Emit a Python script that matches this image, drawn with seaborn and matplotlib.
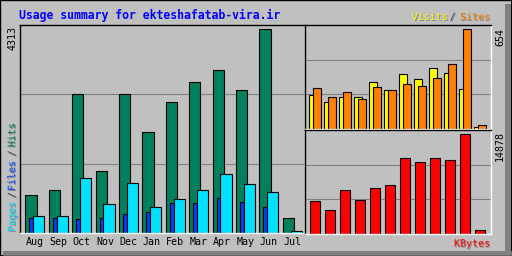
import numpy as np
import pandas as pd
import seaborn as sns
import matplotlib.pyplot as plt
from matplotlib.patches import Rectangle
import matplotlib.patheffects as pe

## data
months = ["Aug", "Sep", "Oct", "Nov", "Dec", "Jan", "Feb", "Mar", "Apr", "May", "Jun", "Jul"]
hits = [807, 914, 2932, 1317, 2932, 2146, 2762, 3187, 3442, 3017, 4313, 319]
files = [361, 361, 1169, 616, 1062, 552, 722, 914, 1254, 1041, 871, 42]
pages = [319, 319, 297, 319, 404, 446, 637, 637, 743, 658, 552, 10]
visits = [222, 178, 209, 209, 309, 255, 362, 329, 402, 369, 262, 16]
sites = [269, 209, 242, 196, 275, 255, 295, 282, 335, 428, 654, 23]
kbytes = [4858, 3644, 6528, 5010, 6832, 7287, 11386, 10779, 11386, 11083, 14878, 607]

W, H = 512, 256
BG = "#C0C0C0"
C_HITS, C_FILES, C_PAGES = "#00805C", "#0040FF", "#00E0FF"
C_VISITS, C_SITES, C_KB = "#FFFF00", "#FF8000", "#FF0000"
MONO = "DejaVu Sans Mono"

fig = plt.figure(figsize=(W / 100, H / 100), dpi=100, facecolor=BG)


def fx(x):
    return x / W


def fy(y):
    return 1 - y / H


def panel(x0, y0, x1, y1):
    ax = fig.add_axes([fx(x0), fy(y1), fx(x1 - x0), (y1 - y0) / H])
    ax.set_facecolor(BG)
    for side in ["left", "top"]:
        ax.spines[side].set_color("black")
    for side in ["right", "bottom"]:
        ax.spines[side].set_color("white")
    for s in ax.spines.values():
        s.set_linewidth(1.0)
    ax.set_axisbelow(True)
    return ax


def bars(ax, offset, values, width, color):
    sns.barplot(x=np.arange(12) + offset, y=values, native_scale=True, width=width,
                color=color, saturation=1, edgecolor="black", linewidth=0.8,
                errorbar=None, ax=ax)


def finish(ax, top, xlim):
    ax.set_ylim(0, top)
    ax.set_xlim(*xlim)
    ax.set_yticks([top / 3, 2 * top / 3])
    ax.yaxis.grid(True, color="#808080", linewidth=0.8)
    ax.tick_params(axis="y", length=0, labelleft=False)
    ax.set_xlabel("")
    ax.set_ylabel("")


# main panel: hits / files / pages
ax1 = panel(20, 25, 305, 233)
bars(ax1, -0.167, hits, 0.48, C_HITS)
bars(ax1, -0.154, pages, 0.17, C_FILES)
bars(ax1, 0.167, files, 0.48, C_PAGES)
finish(ax1, 4400, (-0.64, 11.54))
ax1.set_xticks(range(12))
ax1.set_xticklabels(months, family=MONO, fontsize=7.2)
ax1.tick_params(axis="x", length=0, pad=3)

# visits / sites panel
ax2 = panel(305, 25, 491, 129)
bars(ax2, -0.133, visits, 0.49, C_VISITS)
bars(ax2, 0.133, sites, 0.49, C_SITES)
finish(ax2, 683, (-0.667, 11.73))
ax2.tick_params(axis="x", length=0, labelbottom=False)

# kbytes panel
ax3 = panel(305, 130, 491, 234)
bars(ax3, 0, kbytes, 0.62, C_KB)
finish(ax3, 15530, (-0.667, 11.73))
ax3.tick_params(axis="x", length=0, labelbottom=False)

# outer bevel
fig.add_artist(Rectangle((0, 0), 1, 1, transform=fig.transFigure, fill=False,
                         edgecolor="black", linewidth=1.4))
fig.add_artist(Rectangle((fx(505), 0), fx(6), 1 - 4 / H, transform=fig.transFigure,
                         facecolor="#808080", edgecolor="none"))
fig.add_artist(Rectangle((fx(3), 0), 1, 5 / H, transform=fig.transFigure,
                         facecolor="#808080", edgecolor="none"))
fig.add_artist(Rectangle((0, 0), 1, 1, transform=fig.transFigure, fill=False,
                         edgecolor="black", linewidth=1.0))

shadow = [pe.withSimplePatchShadow(offset=(0.7, -0.7), shadow_rgbFace="#808080", alpha=1)]


def label(x, y, s, color, rot=0, ha="center", size=7.2, weight="normal", fx_=None):
    fig.text(fx(x), fy(y), s, color=color, rotation=rot, ha=ha, va="center",
             family=MONO, fontsize=size, weight=weight, path_effects=fx_)


label(19.3, 15, "Usage summary for ekteshafatab-vira.ir", "#0000FF", ha="left",
      size=8.3, weight="bold")
label(411.7, 17, "Visits", C_VISITS, ha="left", fx_=shadow)
label(452.7, 17, "/", "#404040", fx_=shadow)
label(460, 17, "Sites", C_SITES, ha="left", fx_=shadow)
label(454, 243.5, "KBytes", C_KB, ha="left", fx_=shadow)

label(12, 216.7, "Pages", C_PAGES, rot=90, fx_=shadow)
label(12, 195, "/", "#404040", rot=90, fx_=shadow)
label(12, 176, "Files", C_FILES, rot=90, fx_=shadow)
label(12, 153.3, "/", "#404040", rot=90, fx_=shadow)
label(12, 135, "Hits", C_HITS, rot=90, fx_=shadow)

label(13, 38.3, "4313", "black", rot=90)
label(500, 36.7, "654", "black", rot=90)
label(500, 146, "14878", "black", rot=90)

fig.savefig("out.png", dpi=100, facecolor=BG)
